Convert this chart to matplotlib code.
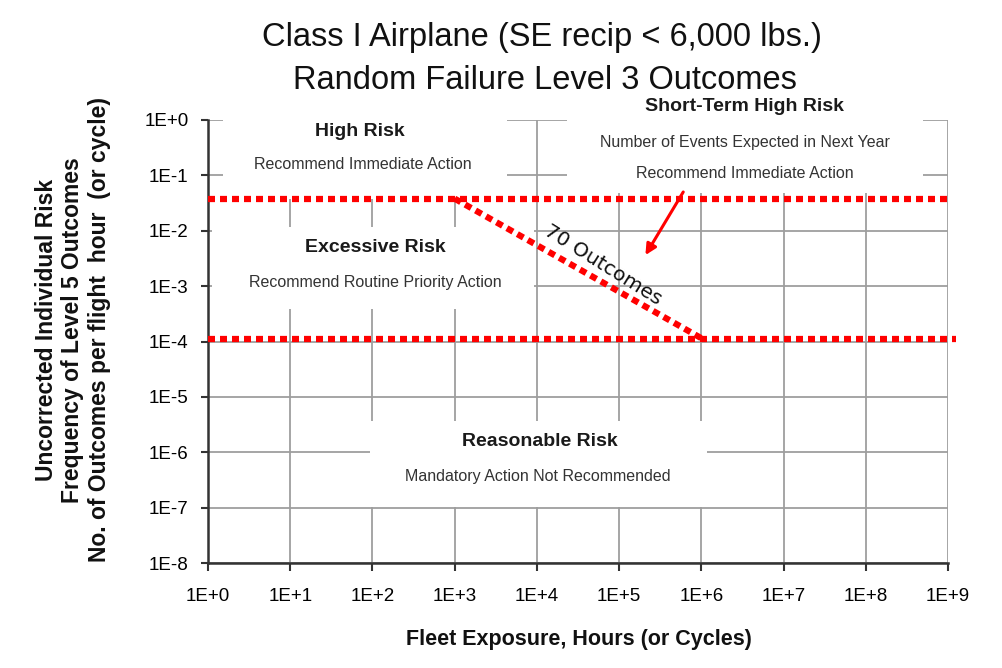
import numpy as np
import matplotlib
matplotlib.use('Agg')
from matplotlib import pyplot as plt
from matplotlib import font_manager
import matplotlib.patches as ptc


##DATA
x_decades = np.arange(0, 10)          # 1E+0 .. 1E+9 fleet hours
y_decades = np.arange(0, -9, -1)      # 1E+0 .. 1E-8 per flight hour
x_tick_labels = ['1E+%d' % d for d in x_decades]
y_tick_labels = ['1E+0'] + ['1E%d' % d for d in y_decades[1:]]

upper_limit = 0.038                   # high risk / excessive risk boundary
lower_limit = 1.1e-4                  # excessive / reasonable boundary
upper_x = [1e0, 1e9]
lower_x = [1e0, 1.26e9]
outcomes_x = [1e3, 1.05e6]            # 70 outcomes line
outcomes_y = [0.038, 1.1e-4]

title_lines = ['Class I Airplane (SE recip < 6,000 lbs.)',
               'Random Failure Level 3 Outcomes']
ylabel_lines = ['Uncorrected Individual Risk',
                'Frequency of Level 5 Outcomes',
                'No. of Outcomes per flight  hour  (or cycle)']
xlabel = 'Fleet Exposure, Hours (or Cycles)'

# (log10 x, log10 y, text, bold)
region_texts = [
    (1.85, -0.20, 'High Risk', True),
    (1.885, -0.81, 'Recommend Immediate Action', False),
    (2.03, -2.31, 'Excessive Risk', True),
    (2.03, -2.94, 'Recommend Routine Priority Action', False),
    (6.53, 0.25, 'Short-Term High Risk', True),
    (6.53, -0.40, 'Number of Events Expected in Next Year', False),
    (6.53, -0.975, 'Recommend Immediate Action', False),
    (4.04, -5.81, 'Reasonable Risk', True),
    (4.01, -6.43, 'Mandatory Action Not Recommended', False),
]

# white boxes behind the region texts (log10 x0, x1, y0, y1)
blank_boxes = [
    (0.18, 3.64, -1.42, 0.4),
    (0.05, 3.97, -3.42, -1.94),
    (4.37, 8.70, -1.31, 0.4),
    (1.97, 6.07, -6.98, -5.44),
]


##FONTS
names = set(f.name for f in font_manager.fontManager.ttflist)
narrow = 'Liberation Sans Narrow' if 'Liberation Sans Narrow' in names else 'Liberation Sans'
sans = 'Liberation Sans'

red = '#ff0000'
grid_col = '#9e9e9e'
dots = (0, (1.12, 0.8))

fig = plt.figure(figsize=(10.03, 6.68), dpi=100)
ax = fig.add_axes([208/1003, 1-563/668, 740/1003, 443/668])

ax.set_xscale('log')
ax.set_yscale('log')
ax.set_xlim(1e0, 1e9)
ax.set_ylim(1e-8, 1e0)

ax.set_xticks(10.0**x_decades)
ax.set_xticklabels(x_tick_labels, family=narrow, fontsize=13.5)
ax.set_yticks(10.0**y_decades)
ax.set_yticklabels(y_tick_labels, family=narrow, fontsize=13.5)
ax.minorticks_off()
ax.tick_params(axis='x', direction='out', length=6, width=1.5, color='#333333', pad=12)
ax.tick_params(axis='y', direction='out', length=5, width=1.5, color='#333333', pad=9)

ax.set_axisbelow(True)
ax.grid(True, color=grid_col, linewidth=1.3)
for s in ['top', 'right']:
    ax.spines[s].set_visible(False)
for s in ['left', 'bottom']:
    ax.spines[s].set_color('#333333')
    ax.spines[s].set_linewidth(1.8)

#blank out grid behind texts
for x0, x1, y0, y1 in blank_boxes:
    rect = ptc.Rectangle((10**x0, 10**y0), 10**x1 - 10**x0, 10**y1 - 10**y0,
                         facecolor='white', edgecolor='none', zorder=1)
    ax.add_patch(rect)

#risk boundaries
ax.plot(upper_x, [upper_limit]*2, color=red, lw=4.5, ls=dots,
        dash_capstyle='butt', clip_on=False, zorder=5)
ax.plot(lower_x, [lower_limit]*2, color=red, lw=4.5, ls=dots,
        dash_capstyle='butt', clip_on=False, zorder=5)
ax.plot(outcomes_x, outcomes_y, color=red, lw=4.5, ls=dots,
        dash_capstyle='butt', clip_on=False, zorder=5)

ax.text(10**4.81, 10**-2.62, '70 Outcomes', rotation=-32, rotation_mode='anchor',
        ha='center', va='center', fontsize=14.5, family='DejaVu Sans',
        color='#111111', zorder=6)

ax.annotate('', xy=(10**5.32, 10**-2.44), xytext=(10**5.78, 10**-1.30),
            arrowprops=dict(arrowstyle='-|>', color=red, lw=2.2,
                            mutation_scale=16, shrinkA=0, shrinkB=0),
            zorder=6)

for lx, ly, txt, bold in region_texts:
    ax.text(10**lx, 10**ly, txt, ha='center', va='center', family=sans,
            fontsize=14 if bold else 11.5,
            fontweight='bold' if bold else 'normal',
            color='#1a1a1a' if bold else '#333333', clip_on=False, zorder=6)

#titles and axis labels
fig.text(542/1003, 1-46/668, title_lines[0], ha='center', va='baseline',
         family=narrow, fontsize=23.5, color='#111111')
fig.text(545/1003, 1-89/668, title_lines[1], ha='center', va='baseline',
         family=narrow, fontsize=23.5, color='#111111')
fig.text(579/1003, 1-640/668, xlabel, ha='center', va='center',
         family=narrow, fontsize=15.5, fontweight='bold', color='#111111')
fig.text(73/1003, 1-330/668, '\n'.join(ylabel_lines), rotation=90,
         ha='center', va='center', multialignment='center', linespacing=1.22,
         family=sans, fontsize=16.5, fontweight='bold', color='#111111')

fig.savefig('out.png', dpi=100, facecolor='white')
